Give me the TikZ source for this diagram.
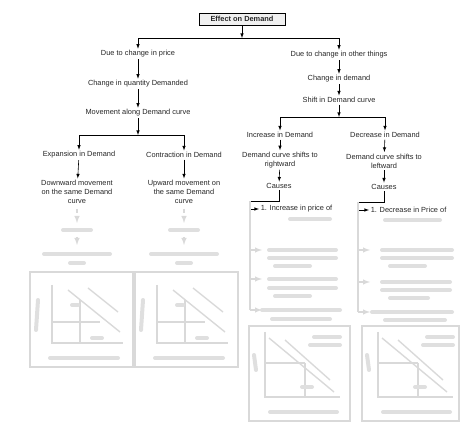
\documentclass[tikz,border=0pt]{standalone}
\usepackage{fontspec}
\setmainfont{Liberation Sans}
\usetikzlibrary{calc}

\begin{document}
\begin{tikzpicture}[x=1pt,y=-1pt,line width=0.6pt,
  every node/.style={font=\fontsize{7.4}{9}\selectfont,inner sep=1.5pt,align=center,text=black!85},
  blur/.style={gray!25,line width=4pt,line cap=round},
  faint/.style={gray!30,line width=1.4pt}]
  \useasboundingbox (0,0) rectangle (474,427);

  % top of the chart
  \node[draw,fill=gray!12,font=\bfseries\fontsize{7.4}{9}\selectfont,minimum width=86pt,minimum height=12pt] (effect) at (242,19) {Effect on Demand};
  \coordinate (split) at (242,38);

  % movement side
  \node (price) at (138,54) {Due to change in price};
  \node (qty) at (138,84) {Change in quantity Demanded};
  \node (move) at (138,113) {Movement along Demand curve};
  \coordinate (msplit) at (138,135);
  \node (exp) at (79,155) {Expansion in Demand};
  \node (con) at (184,155) {Contraction in Demand};
  \node (down) at (77,192) {Downward movement\\on the same Demand\\curve};
  \node (up) at (184,192) {Upward movement on\\the same Demand\\curve};

  % shift side
  \node (other) at (339,55) {Due to change in other things};
  \node (chd) at (339,79) {Change in demand};
  \node (shift) at (339,100) {Shift in Demand curve};
  \coordinate (ssplit) at (339,117);
  \node (inc) at (280,135) {Increase in Demand};
  \node (dec) at (385,135) {Decrease in Demand};
  \node (right) at (280,160) {Demand curve shifts to\\rightward};
  \node (left) at (384,161) {Demand curve shifts to\\leftward};
  \node (causeR) at (279,186) {Causes};
  \node (causeL) at (384,187) {Causes};
  \coordinate (bR) at (250,201);
  \coordinate (bL) at (358,202);
  \node[anchor=west] (incp) at (259,209) {1. Increase in price of};
  \node[anchor=west] (decp) at (369,210) {1. Decrease in Price of};

  \draw[-latex] (effect) -- (split);
  \draw[-latex] (split) -| (price);
  \draw[-latex] (split) -| (other);
  \draw[-latex] (price) -- (qty);
  \draw[-latex] (qty) -- (move);
  \draw[-latex] (move) -- (msplit);
  \draw[-latex] (msplit) -| (exp);
  \draw[-latex] (msplit) -| (con);
  \draw[-latex] (exp) -- (down);
  \draw[-latex] (con) -- (up);

  \draw[-latex] (other) -- (chd);
  \draw[-latex] (chd) -- (shift);
  \draw[-latex] (shift) -- (ssplit);
  \draw[-latex] (ssplit) -| (inc);
  \draw[-latex] (ssplit) -| (dec);
  \draw[-latex] (inc) -- (right);
  \draw[-latex] (right) -- (causeR);
  \draw[-latex] (dec) -- (left);
  \draw[-latex] (left) -- (causeL);
  \draw[-latex] (causeR.south) |- (bR) |- (incp.west);
  \draw[-latex] (causeL.south) |- (bL) |- (decp.west);

  % blurred lower part, left
  \foreach \x in {77,184} {
    \draw[faint] (\x,209) -- (\x,213);
    \draw[faint,-latex] (\x,216) -- (\x,223);
    \draw[blur] (\x-14,230) -- (\x+14,230);
    \draw[faint,-latex] (\x,237) -- (\x,245);
    \draw[blur] (\x-33,254) -- (\x+33,254);
    \draw[blur] (\x-7,263) -- (\x+7,263);
  }
  \foreach \dx in {0,105} {
    \begin{scope}[shift={(\dx,0)}]
      \draw[faint] (30,272) rectangle (133,367);
      \draw[faint] (52,285) -- (52,343) -- (123,343);
      \draw[faint] (68,290) -- (120,332);
      \draw[faint] (88,288) -- (118,312);
      \draw[faint] (52,322) -- (100,322);
      \draw[faint] (80,300) -- (80,343);
      \draw[blur] (38,300) -- (36,330);
      \draw[blur] (50,358) -- (118,358);
      \draw[blur] (72,305) -- (78,305);
      \draw[blur] (92,338) -- (102,338);
    \end{scope}
  }

  % blurred lower part, right
  \draw[faint] (bR) -- (250,310);
  \draw[faint] (bL) -- (358,312);
  \draw[blur] (290,219) -- (330,219);
  \draw[blur] (385,220) -- (440,220);
  \foreach \y in {250,279,310} {
    \draw[faint,-latex] (250,\y) -- (262,\y);
  }
  \foreach \y in {250,282,312} {
    \draw[faint,-latex] (358,\y) -- (370,\y);
  }
  \foreach \y/\a/\b in {250/269/336, 258/269/336, 266/275/310,
                        279/269/336, 288/269/336, 296/275/310,
                        310/262/340, 319/272/330} {
    \draw[blur] (\a,\y) -- (\b,\y);
  }
  \foreach \y/\a/\b in {250/382/452, 258/382/452, 266/390/425,
                        282/382/450, 290/382/450, 298/390/428,
                        312/372/452, 320/385/445} {
    \draw[blur] (\a,\y) -- (\b,\y);
  }
  \foreach \dx/\w in {0/101,113/97} {
    \begin{scope}[shift={(\dx,0)}]
      \draw[faint] (249,326) rectangle (249+\w,421);
      \draw[faint] (265,332) -- (265,397) -- (340,397);
      \draw[faint] (269,338) -- (334,392);
      \draw[faint] (285,340) -- (330,380);
      \draw[faint] (265,363) -- (305,363);
      \draw[faint] (305,363) -- (305,397);
      \draw[blur] (314,337) -- (340,337);
      \draw[blur] (310,345) -- (340,345);
      \draw[blur] (254,355) -- (256,370);
      \draw[blur] (270,412) -- (337,412);
      \draw[blur] (302,387) -- (312,387);
    \end{scope}
  }
\end{tikzpicture}
\end{document}
